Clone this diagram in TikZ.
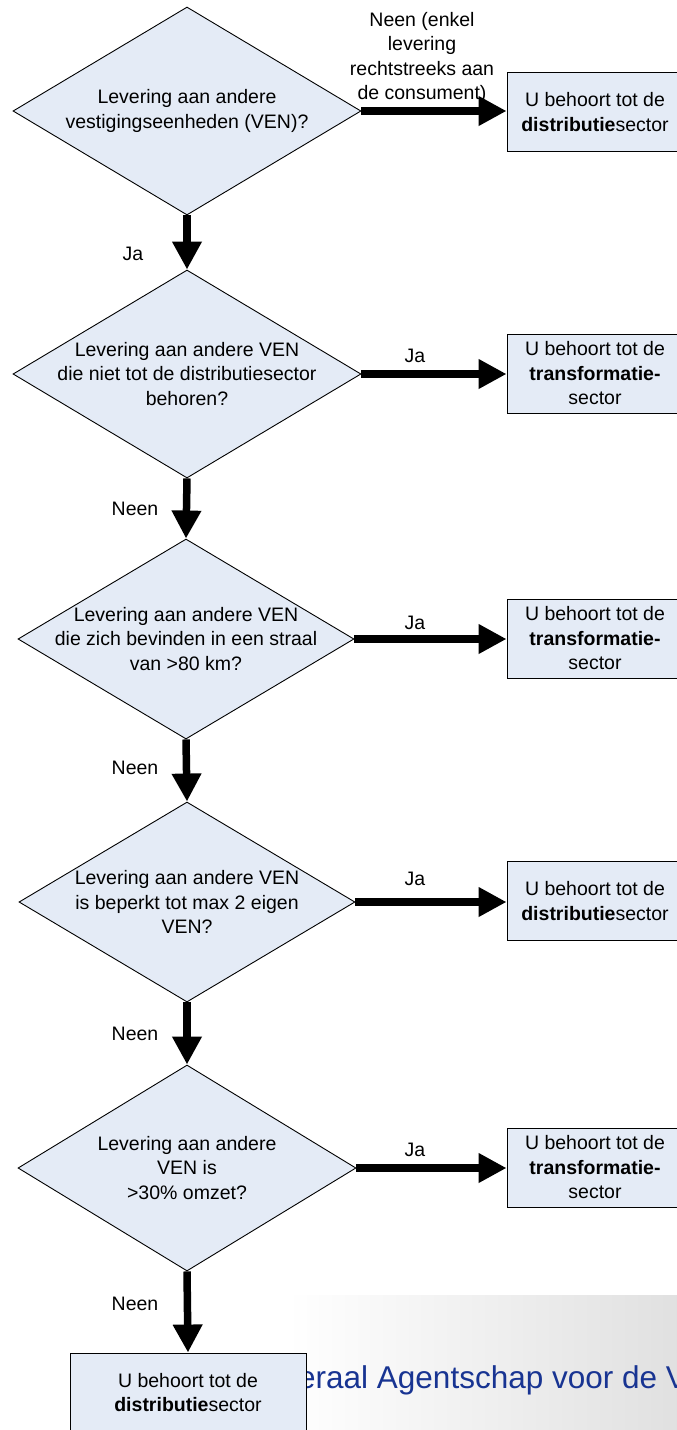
\documentclass[tikz,border=0pt]{standalone}
\usepackage{fontspec}
\setmainfont{Liberation Sans}
\usetikzlibrary{shapes.geometric,arrows.meta}
\definecolor{boxfill}{RGB}{228,235,246}
\definecolor{fagblue}{RGB}{24,52,146}
\begin{document}
\begin{tikzpicture}[x=1pt,y=-1pt,
  font=\fontsize{19.5}{24.5}\selectfont,
  dia/.style 2 args={diamond, draw=black, line width=0.9pt, fill=boxfill, inner sep=0pt, minimum width=#1, minimum height=#2},
  res/.style={draw=black, line width=0.9pt, fill=boxfill, minimum width=176pt, minimum height=79pt, align=center, inner sep=0pt},
  flow/.style={line width=7.5pt, -{Triangle[length=28pt,width=28pt]}},
  lbl/.style={inner sep=0pt, align=center}]
\useasboundingbox (0,0) rectangle (677,1430);
\clip (0,0) rectangle (677,1430);
\fill[white] (0,0) rectangle (677,1430);

% footer band
\shade[left color=white, right color=gray!24] (287,1295) rectangle (677,1430);
\node[anchor=base west, font=\fontsize{31.5}{36}\selectfont, text=fagblue, inner sep=0pt] (fag) at (298,1388) {eraal Agentschap voor de V};

% decisions
\node[dia={348pt}{208pt}, label={[align=center]center:{Levering aan andere\\vestigingseenheden (VEN)?}}] (d1) at (187,111) {};
\node[dia={348pt}{208pt}, label={[align=center]center:{Levering aan andere VEN\\die niet tot de distributiesector\\behoren?}}] (d2) at (187,374) {};
\node[dia={336pt}{200pt}, label={[align=center]center:{Levering aan andere VEN\\die zich bevinden in een straal\\van >80 km?}}] (d3) at (186,639) {};
\node[dia={336pt}{200pt}, label={[align=center]center:{Levering aan andere VEN\\is beperkt tot max 2 eigen\\VEN?}}] (d4) at (187,902) {};
\node[dia={338pt}{206pt}, label={[align=center]center:{Levering aan andere\\VEN is\\>30\% omzet?}}] (d5) at (187,1168) {};

% results
\node[res] (b1) at (595,112) {U behoort tot de\\\textbf{distributie}sector};
\node[res] (b2) at (595,373.5) {U behoort tot de\\\textbf{transformatie-}\\sector};
\node[res] (b3) at (595,638.5) {U behoort tot de\\\textbf{transformatie-}\\sector};
\node[res] (b4) at (595,901) {U behoort tot de\\\textbf{distributie}sector};
\node[res] (b5) at (595,1167.5) {U behoort tot de\\\textbf{transformatie-}\\sector};
\node[res, minimum width=236pt] (b6) at (188,1392.5) {U behoort tot de\\\textbf{distributie}sector};

% connectors
\draw[flow] (d1.east) -- (d1.east -| b1.west);
\draw[flow] (d2.east) -- (d2.east -| b2.west);
\draw[flow] (d3.east) -- (d3.east -| b3.west);
\draw[flow] (d4.east) -- (d4.east -| b4.west);
\draw[flow] (d5.east) -- (d5.east -| b5.west);
\draw[flow] (d1.south) -- (d2.north);
\draw[flow] (d2.south) -- (d3.north);
\draw[flow] (d3.south) -- (d4.north);
\draw[flow] (d4.south) -- (d5.north);
\draw[flow] (d5.south) -- (b6.north);

% labels
\node[lbl] (l1) at (422,58) {Neen (enkel\\levering\\rechtstreeks aan\\de consument)};
\node[lbl] (l2) at (415,356) {Ja};
\node[lbl] (l3) at (415,623) {Ja};
\node[lbl] (l4) at (415,879) {Ja};
\node[lbl] (l5) at (415,1150) {Ja};
\node[lbl] (l6) at (133,254) {Ja};
\node[lbl] (l7) at (135,509) {Neen};
\node[lbl] (l8) at (135,768) {Neen};
\node[lbl] (l9) at (135,1034) {Neen};
\node[lbl] (l10) at (135,1304) {Neen};
\end{tikzpicture}
\end{document}
